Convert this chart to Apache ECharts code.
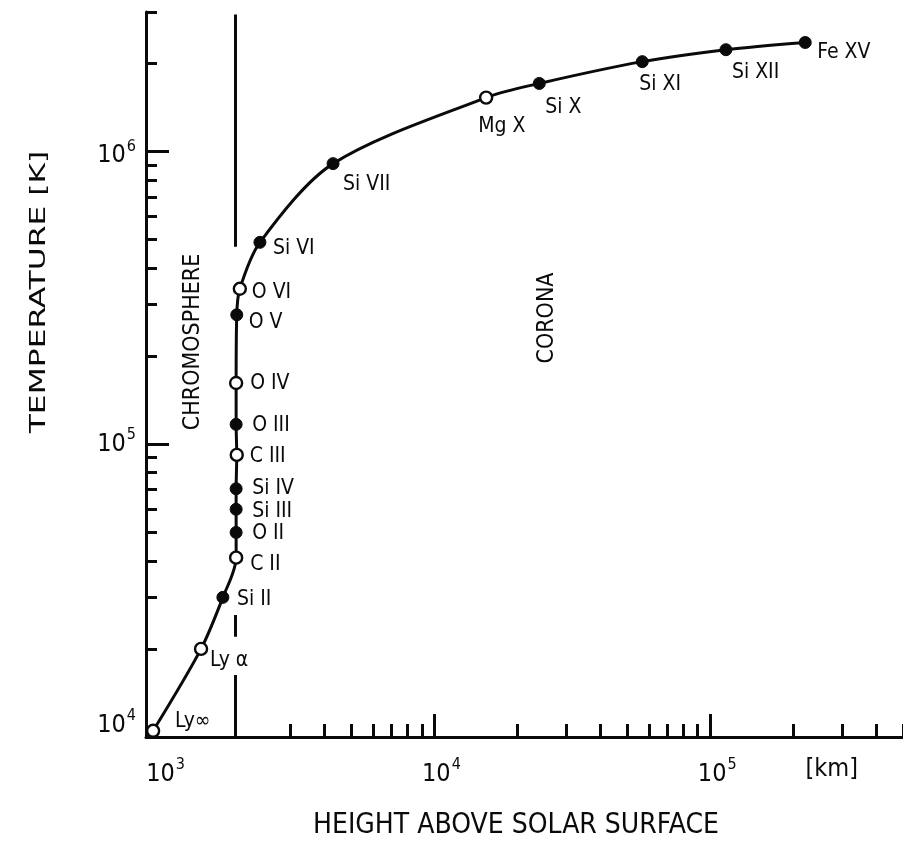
<!DOCTYPE html>
<html><head><meta charset="utf-8">
<script src="https://cdn.jsdelivr.net/npm/echarts@6/dist/echarts.min.js"></script>
<style>html,body{margin:0;padding:0;background:#fff}#c{width:903px;height:854px}</style>
</head><body><div id="c"></div>
<script>
// ---- data ----
const ions = ['Ly\u221E','Ly \u03B1','Si II','C II','O II','Si III','Si IV','C III','O III','O IV','O V','O VI','Si VI','Si VII','Mg X','Si X','Si XI','Si XII','Fe XV'];
const heightsKm = [955,1425,1710,1910,1910,1910,1910,1920,1910,1910,1920,1970,2330,4290,15400,24000,56700,114000,221000];
const temperaturesK = [1.05e4,2.0e4,3.0e4,4.1e4,5.0e4,6.0e4,7.05e4,9.2e4,1.17e5,1.62e5,2.77e5,3.4e5,4.9e5,9.1e5,1.53e6,1.71e6,2.03e6,2.23e6,2.36e6];
const openMarker = [true,true,false,true,false,false,false,true,false,true,false,true,false,false,true,false,false,false,false];
const xLabelKm = [1e3,1e4,1e5];
const xMajorTicksKm = [1e4,1e5];
const xMinorTicksKm = [3e3,4e3,5e3,6e3,7e3,8e3,9e3,2e4,3e4,4e4,5e4,6e4,7e4,8e4,9e4,2e5,3e5,4e5,5e5];
const yMajorTicksK = [1e4,1e5,1e6];
const yMinorTicksK = [2e4,3e4,4e4,5e4,6e4,7e4,8e4,9e4,2e5,3e5,4e5,5e5,6e5,7e5,8e5,9e5,2e6,3e6];
const boundaryKm = 1900;
const boundarySegmentsK = [[2.94e6,4.73e5],[2.61e4,2.2e4],[1.63e4,1.0e4]];
const xRangeKm = [900, 5e5];
const yRangeK = [1e4, 3e6];

// ---- layout / style ----
const FONT = '"DejaVu Sans Condensed","DejaVu Sans",sans-serif';
const INK = '#0a0a0a';
const kmLabelAt = 2.6e5;
const labelOffsets = {
  'Ly\u221E':[22,-9],'Ly \u03B1':[9,12],'Si II':[14,2],'C II':[14,7],'O II':[16,1],'Si III':[16,2],
  'Si IV':[16,0],'C III':[13,2],'O III':[16,1],'O IV':[14,1],'O V':[12,8],'O VI':[12,4],
  'Si VI':[13,6],'Si VII':[10,21],'Mg X':[-8,29],'Si X':[6,24],'Si XI':[-3,23],'Si XII':[6,23],'Fe XV':[12,10]
};
const L = Math.log10;

const curveData = heightsKm.map((h,i)=>[L(h), L(temperaturesK[i])]);
const markerData = heightsKm.map((h,i)=>({
  name: ions[i],
  value: [L(h), L(temperaturesK[i])],
  itemStyle: openMarker[i] ? {color:'#fff', borderColor:INK, borderWidth:2.4, opacity:1} : {color:INK, borderColor:INK, borderWidth:1, opacity:1},
  label: {offset: labelOffsets[ions[i]]}
}));
const boundaryData = [];
boundarySegmentsK.forEach((s,i)=>{ if(i) boundaryData.push([L(boundaryKm), null]); boundaryData.push([L(boundaryKm), L(s[0])]); boundaryData.push([L(boundaryKm), L(s[1])]); });

const supRich = {
  b:{fontSize:25, fontFamily:FONT, color:INK},
  s:{fontSize:16, fontFamily:FONT, color:INK, padding:[0,0,18,1]},
  b4:{fontSize:25, fontFamily:FONT, color:INK, padding:[0,0,24,0]},
  s4:{fontSize:16, fontFamily:FONT, color:INK, padding:[0,0,42,1]},
  b6:{fontSize:25, fontFamily:FONT, color:INK, padding:[8,0,0,0]},
  s6:{fontSize:16, fontFamily:FONT, color:INK, padding:[0,0,10,1]},
  u:{fontSize:25, fontFamily:FONT, color:INK}
};

const xBase = {type:'value', position:'bottom', min:L(xRangeKm[0]), max:L(xRangeKm[1]), splitLine:{show:false}};
const yBase = {type:'value', position:'left', min:L(yRangeK[0]), max:L(yRangeK[1]), splitLine:{show:false}};

const yFmt = v => { const e = Math.round(v); if (e===4) return '{b4|10}{s4|4}'; if (e===6) return '{b6|10}{s6|6}'; return '{b|10}{s|'+e+'}'; };

const option = {
  backgroundColor:'#fff',
  animation:false,
  grid:{left:146, right:0, top:12, bottom:117},
  xAxis:[
    Object.assign({}, xBase, {
      axisLine:{show:true, lineStyle:{color:INK, width:3}},
      axisTick:{show:true, inside:true, length:23, lineStyle:{color:INK, width:3}, customValues:xMajorTicksKm.map(L)},
      axisLabel:{show:true, margin:20, padding:[0,0,0,14], customValues:xLabelKm.map(L).concat([L(kmLabelAt)]),
        formatter:v=> Math.abs(v-L(kmLabelAt))<1e-6 ? '{u|[km]}' : '{b|10}{s|'+Math.round(v)+'}', rich:supRich}
    }),
    Object.assign({}, xBase, {
      axisLine:{show:false},
      axisTick:{show:true, inside:true, length:13, lineStyle:{color:INK, width:3}, customValues:xMinorTicksKm.map(L)},
      axisLabel:{show:false}
    })
  ],
  yAxis:[
    Object.assign({}, yBase, {
      axisLine:{show:true, lineStyle:{color:INK, width:3}},
      axisTick:{show:true, inside:true, length:23, lineStyle:{color:INK, width:3}, customValues:yMajorTicksK.map(L)},
      axisLabel:{show:true, margin:10, align:'right', customValues:yMajorTicksK.map(L), formatter:yFmt, rich:supRich}
    }),
    Object.assign({}, yBase, {
      axisLine:{show:false},
      axisTick:{show:true, inside:true, length:11, lineStyle:{color:INK, width:3}, customValues:yMinorTicksK.map(L)},
      axisLabel:{show:false}
    })
  ],
  graphic:[
    {type:'text', x:40, y:292, rotation:Math.PI/2, scaleX:1.66, style:{text:'TEMPERATURE [K]', fontSize:21, fontFamily:FONT, fill:INK, align:'center', verticalAlign:'middle', textAlign:'center', textVerticalAlign:'middle'}},
    {type:'text', x:516, y:826, style:{text:'HEIGHT ABOVE SOLAR SURFACE', fontSize:28, fontFamily:FONT, fill:INK, align:'center', verticalAlign:'middle', textAlign:'center', textVerticalAlign:'middle'}},
    {type:'text', x:193, y:342, rotation:Math.PI/2, style:{text:'CHROMOSPHERE', fontSize:23, fontFamily:FONT, fill:INK, align:'center', verticalAlign:'middle', textAlign:'center', textVerticalAlign:'middle'}},
    {type:'text', x:547, y:318, rotation:Math.PI/2, style:{text:'CORONA', fontSize:23, fontFamily:FONT, fill:INK, align:'center', verticalAlign:'middle', textAlign:'center', textVerticalAlign:'middle'}}
  ],
  series:[
    {type:'line', name:'boundary', data:boundaryData, symbol:'none', connectNulls:false, lineStyle:{color:INK, width:3}, silent:true},
    {type:'line', name:'curve', data:curveData, symbol:'none', smooth:0.3, lineStyle:{color:INK, width:3}, silent:true},
    {type:'scatter', name:'ions', data:markerData, symbol:'circle', symbolSize:12, z:5,
      label:{show:true, position:'inside', align:'left', verticalAlign:'middle', formatter:'{b}', fontSize:21, fontFamily:FONT, color:INK, opacity:1}}
  ]
};
const chart = echarts.init(document.getElementById('c'));
chart.setOption(option);
</script></body></html>
